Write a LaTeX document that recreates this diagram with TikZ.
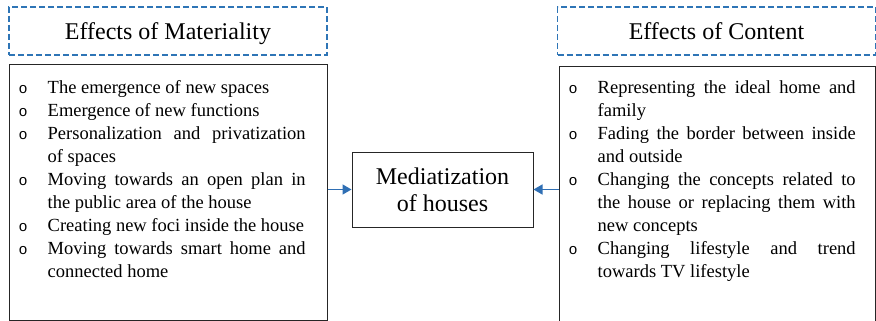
\documentclass[tikz,border=0pt]{standalone}
\usepackage{fontspec}
\setmainfont{Liberation Serif}
\newfontfamily\bulletfont{Liberation Mono}
\usetikzlibrary{positioning,arrows.meta}

\definecolor{dashblue}{HTML}{2E75B6}
\definecolor{arrowblue}{HTML}{2F6FB4}

\newenvironment{effectlist}{%
  \hyphenpenalty=10000 \exhyphenpenalty=10000
  \spaceskip=0.25em plus 1em minus 0em
  \begin{list}{\bulletfont\fontsize{15}{15}\selectfont o}{%
    \setlength{\leftmargin}{30pt}\setlength{\labelwidth}{10pt}%
    \setlength{\labelsep}{20pt}\setlength{\itemsep}{0pt}%
    \setlength{\parsep}{0pt}\setlength{\topsep}{0pt}\setlength{\partopsep}{0pt}}}%
  {\end{list}}

\begin{document}
\begin{tikzpicture}[x=1pt,y=-1pt,
  title/.style={draw=dashblue,line width=1.5pt,dash pattern=on 6pt off 3pt,
    minimum width=318pt,minimum height=48pt,inner sep=0pt,
    text height=17.5pt,text depth=0pt,font=\fontsize{24}{27}\selectfont},
  frame/.style={draw=black!85,line width=1pt,inner sep=0pt},
  listtext/.style={text width=288pt,inner sep=0pt,align=justify,
    font=\fontsize{18.5}{23}\selectfont},
  flow/.style={-{Triangle[length=9pt,width=10pt]},draw=arrowblue,
    fill=arrowblue,line width=1.5pt}]

\useasboundingbox (0,0) rectangle (876,321);

% headings
\node [title] (mattitle) at (168,31) {Effects of Materiality};
\node [title] (contitle) at (716.5,31) {Effects of Content};

% frames
\node [frame,minimum width=318pt,minimum height=255pt] (matbox) at (168,192.5) {};
\node [frame,minimum width=316pt,minimum height=273pt] (conbox) at (717,203.5) {};
\node [frame,minimum width=181pt,minimum height=75pt,align=center,
  font=\fontsize{24}{27}\selectfont] (medbox) at (442.5,189.5) {Mediatization\\of houses};

% lists
\node [listtext,anchor=north west] (matlist) at ([xshift=9pt,yshift=-6pt]matbox.north west) {%
\begin{effectlist}
\item The emergence of new spaces
\item Emergence of new functions
\item Personalization and privatization of spaces
\item Moving towards an open plan in the public area of the house
\item Creating new foci inside the house
\item Moving towards smart home and connected home
\end{effectlist}};

\node [listtext,anchor=north west] (conlist) at ([xshift=9pt,yshift=-4pt]conbox.north west) {%
\begin{effectlist}
\item Representing the ideal home and family
\item Fading the border between inside and outside
\item Changing the concepts related to the house or replacing them with new concepts
\item Changing lifestyle and trend towards TV lifestyle
\end{effectlist}};

% arrows
\draw [flow] (matbox.east |- medbox.west) -- (medbox.west);
\draw [flow] (conbox.west |- medbox.east) -- (medbox.east);

\end{tikzpicture}
\end{document}
